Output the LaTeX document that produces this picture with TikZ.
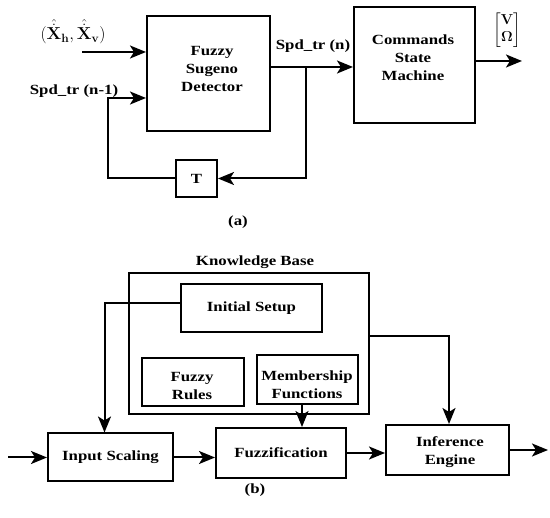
\documentclass[tikz,border=0pt]{standalone}
\usepackage{amsmath}
\usepackage[no-math]{fontspec}
\setmainfont{Liberation Serif}[FakeStretch=1.2]
\usetikzlibrary{arrows.meta,calc}
\newcommand{\xhd}{\hat{\dot{\mathbf{X}}}}
\begin{document}
\begin{tikzpicture}[x=1pt,y=-1pt,
  every node/.style={font=\bfseries\fontsize{14}{18}\selectfont},
  blk/.style={draw,line width=2pt,inner sep=0pt,align=center},
  txt/.style={align=center},
  conn/.style={line width=2pt},
  arr/.style={conn,-{Stealth[length=16pt,width=13pt,inset=4pt]}}]
\useasboundingbox (0,0) rectangle (550,518);
% ---- (a) ----
\node[blk,minimum width=123pt,minimum height=115pt] (fsd) at (208.5,73.5) {};
\node[txt] (fsdt) at (212,69) {Fuzzy\\Sugeno\\Detector};
\node[blk,minimum width=121pt,minimum height=116pt] (csm) at (414.5,65) {};
\node[txt] (csmt) at (413,58) {Commands\\State\\Machine};
\node[blk,minimum width=41pt,minimum height=37pt] (T) at (196.5,178.5) {T};
\coordinate (xin) at (82,52);
\coordinate (fbx) at (108,98);
\coordinate (br) at (306,67);
\coordinate (out1) at (522,61);
\node[font=\bfseries\fontsize{18}{20}\selectfont] (xl) at (73,32) {$(\xhd_{\mathbf{h}},\xhd_{\mathbf{v}})$};
\node (spd1) at (74,91) {Spd\_tr (n-1)};
\node (spd) at (313,46) {Spd\_tr (n)};
\node[font=\bfseries\fontsize{14}{17}\selectfont,inner sep=0pt] (vo) at (507,30) {$\left[\begin{matrix}\mathbf{V}\\ \mathbf{\Omega}\end{matrix}\right]$};
\node (la) at (238,222) {(a)};
\draw[arr] (xin) -- (xin -| fsd.west);
\draw[arr] (fsd.east |- br) -- (br -| csm.west);
\draw[arr] (br) |- (T.east);
\draw[arr] (T.west) -| (fbx) -- (fbx -| fsd.west);
\draw[arr] (csm.east |- out1) -- (out1);
% ---- (b) ----
\node[blk,minimum width=240pt,minimum height=141pt] (kb) at (249,343.5) {};
\node (kbl) at (255,262) {Knowledge Base};
\node[blk,minimum width=141pt,minimum height=48pt] (init) at (251.5,308) {Initial Setup};
\node[blk,minimum width=102pt,minimum height=48pt] (fr) at (193,382.5) {};
\node[txt] (frt) at (192,386) {Fuzzy\\Rules};
\node[blk,minimum width=101pt,minimum height=49pt] (mf) at (307.5,379.5) {};
\node[txt] (mft) at (307,385) {Membership\\Functions};
\node[blk,minimum width=125pt,minimum height=48pt] (is) at (110.5,457.5) {Input Scaling};
\node[blk,minimum width=130pt,minimum height=50pt] (fz) at (281,453) {Fuzzification};
\node[blk,minimum width=123pt,minimum height=50pt] (ie) at (447.5,450) {};
\node[txt] (iet) at (450,452) {Inference\\Engine};
\node (lb) at (255,490) {(b)};
\coordinate (bin) at (8,457.5);
\coordinate (bout) at (548,450);
\draw[arr] (bin) -- (is.west);
\draw[arr] (is.east) -- (is.east -| fz.west);
\draw[arr] (fz.east) -- (fz.east -| ie.west);
\draw[arr] (ie.east) -- (bout);
\draw[arr] ([yshift=5pt]init.west) -| ([xshift=-6pt]is.north);
\draw[arr] ([yshift=7pt]kb.east) -| ([xshift=1.5pt]ie.north);
\draw[arr] ([xshift=-5.5pt]mf.south) -- ([xshift=-5.5pt]mf.south |- fz.north);
\end{tikzpicture}
\end{document}
